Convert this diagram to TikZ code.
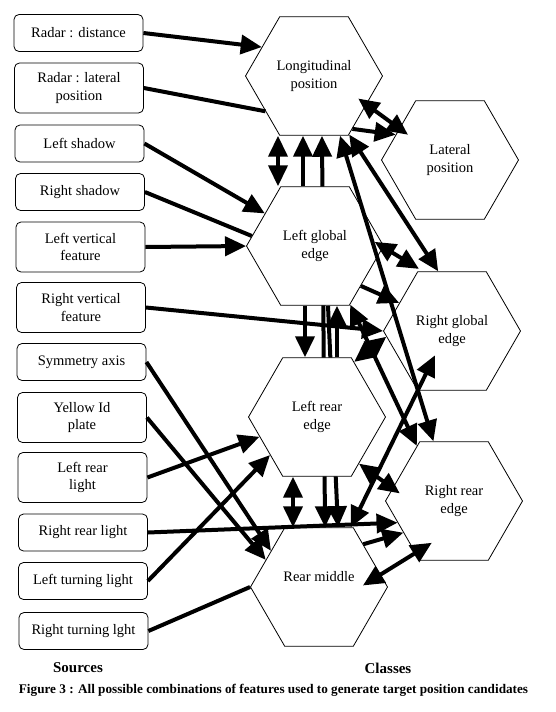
\documentclass[tikz,border=0pt]{standalone}
\usepackage{fontspec}
\setmainfont{Liberation Serif}
\usetikzlibrary{arrows.meta,shapes.geometric,calc}
\pgfdeclarelayer{background}
\pgfsetlayers{background,main}
\begin{document}
\begin{tikzpicture}[x=1pt,y=-1pt,
  src/.style={draw, rounded corners=5pt, line width=0.8pt, minimum width=129pt,
    align=center, font=\fontsize{14.5}{17.5}\selectfont, inner sep=2pt},
  src1/.style={src, minimum height=37pt},
  src2/.style={src, minimum height=50pt},
  hexa/.style={draw, regular polygon, regular polygon sides=6,
    minimum size=137pt, fill=white, line width=0.8pt, align=center,
    font=\fontsize{14.5}{17.5}\selectfont, inner sep=1pt},
  lbl/.style={font=\fontsize{14.5}{17.5}\selectfont, align=center},
  ln/.style={line width=4pt},
  arw/.style={line width=4pt, -{Triangle[length=21pt,width=19pt]}},
  dbl/.style={line width=4pt, {Triangle[length=21pt,width=19pt]}-{Triangle[length=21pt,width=19pt]}},
]
\useasboundingbox (0,0) rectangle (555,712);

% sources
\node[src1] (rd)  at (78.5,33)  {Radar : distance};
\node[src2] (rl)  at (79,88)    {Radar : lateral\\position};
\node[src1] (ls)  at (79.5,143.5) {Left shadow};
\node[src1] (rs)  at (80,192)   {Right shadow};
\node[src2] (lv)  at (80.5,247) {Left vertical\\feature};
\node[src2] (rv)  at (81,307.5) {Right vertical\\feature};
\node[src1] (sa)  at (81.5,362) {Symmetry axis};
\node[src2] (yi)  at (82,417.5) {Yellow Id\\plate};
\node[src2] (lrl) at (82.5,477.5) {Left rear\\light};
\node[src1] (rrl) at (83,532.5) {Right rear light};
\node[src1] (ltl) at (83,581)   {Left turning light};
\node[src1] (rtl) at (83.5,631) {Right turning lght};

% classes
\node[hexa] (L)   at (314,76)  {Longitudinal\\position};
\node[hexa] (LP)  at (450,160) {Lateral\\position};
\node[hexa] (LG)  at (315,246) {Left global\\edge};
\node[hexa] (RG)  at (452,331) {Right global\\edge};
\node[hexa] (LR)  at (317,417) {Left rear\\edge};
\node[hexa] (RRE) at (454,501) {Right rear\\edge};
\node[hexa] (RM)  at (319,587) {};
\node[lbl]  (RMt) at (319,577) {Rear middle};

% titles
\node[font=\bfseries\fontsize{15}{18}\selectfont] (sources) at (78,668) {Sources};
\node[font=\bfseries\fontsize{15}{18}\selectfont] (classes) at (388,668) {Classes};
\node[font=\bfseries\fontsize{13.2}{16}\selectfont] (cap) at (273.5,690)
  {Figure 3 : All possible combinations of features used to generate target position candidates};

% long links hidden behind the hexagons
\begin{pgfonlayer}{background}
\draw[dbl] ([xshift=8]L.270) -- ([xshift=6]RM.90);
\draw[arw] ([xshift=13]LG.270) -- ([xshift=19]RM.90);
\end{pgfonlayer}

% sources to classes
\draw[arw] (rd.east) -- (L.151);
\draw[ln]  (rl.east) -- (L.216);
\draw[arw] (ls.east) -- (LG.147);
\draw[ln]  (rs.east) -- (LG.171);
\draw[arw] (lv.east) -- (LG.180);
\draw[arw] (rv.east) -- (RG.180);
\draw[arw] (sa.east) -- (RM.143);
\draw[arw] (yi.east) -- (RM.153);
\draw[arw] (lrl.east) -- (LR.199);
\draw[arw] (rrl.east) -- (RRE.201);
\draw[arw] (ltl.east) -- (LR.219);
\draw[ln]  (rtl.east) -- (RM.180);

% class to class
\draw[dbl] ([xshift=-36]L.270) -- ([xshift=-37]LG.90);
\draw[arw] ([xshift=-12]LG.90) -- ([xshift=-11]L.270);
\draw[dbl] ([xshift=26]L.270) -- (RRE.109);
\draw[dbl] ($(L.center)!0.83!(L.-27)$) -- ($(LP.center)!0.82!(LP.149)$);
\draw[arw] (L.-54) -- (LP.155);
\draw[dbl] (L.-59) -- (RG.103);
\draw[dbl] ($(LG.center)!0.9!(LG.4)$) -- ($(RG.center)!1.04!(RG.118)$);
\draw[arw] (LG.-41) -- (RG.152);
\draw[dbl] (LG.-59) -- (RRE.124);
\draw[arw] ([xshift=-10]LG.270) -- ([xshift=-12]LR.90);
\draw[arw] ([xshift=20]LR.90) -- ([xshift=22]LG.270);
\draw[dbl] (LR.56) -- (RG.185);
\draw[dbl] (LR.-48) -- ($(RRE.center)!0.85!(RRE.172)$);
\draw[dbl] ([xshift=-24]LR.270) -- ([xshift=-26]RM.90);
\draw[dbl] (RM.62) -- ($(RG.center)!0.45!(RG.235)$);
\draw[arw] (RM.44) -- (RRE.212);
\draw[dbl] ($(RM.center)!0.65!(RM.2)$) -- ($(RRE.center)!0.7!(RRE.242)$);
\end{tikzpicture}
\end{document}
